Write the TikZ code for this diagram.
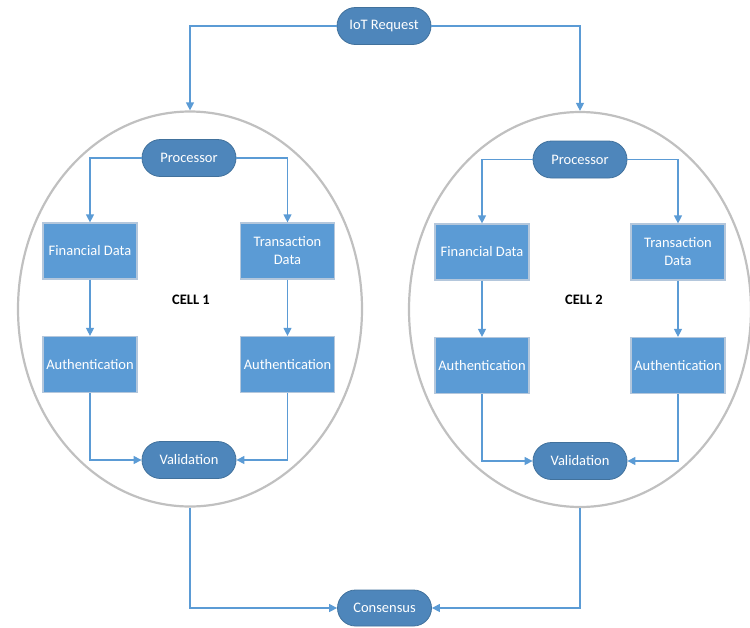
\documentclass[tikz,border=0pt]{standalone}
\usepackage{fontspec}
\setmainfont{Carlito}
\usetikzlibrary{shapes.geometric,shapes.misc,arrows.meta}
\definecolor{boxfill}{HTML}{5B9BD5}
\definecolor{boxline}{HTML}{B4C7DC}
\definecolor{pillfill}{HTML}{4E86BB}
\definecolor{pillline}{HTML}{41719C}
\definecolor{conn}{HTML}{5B9BD5}
\definecolor{cellline}{HTML}{C0C0C0}
\tikzset{
  txt/.style={font=\fontsize{14.5}{18}\selectfont, text=white, align=center, inner sep=0pt},
  pill/.style={txt, rounded rectangle, fill=pillfill, draw=pillline, line width=0.8pt,
    minimum width=94pt, minimum height=37pt},
  blockbox/.style={txt, rectangle, fill=boxfill, draw=boxline, line width=1.2pt,
    minimum width=94pt, minimum height=56pt},
  cell/.style={ellipse, draw=cellline, line width=2.2pt, inner sep=0pt,
    minimum width=344pt, minimum height=395pt},
  celllabel/.style={font=\fontsize{14.5}{18}\selectfont\bfseries, text=black, inner sep=0pt},
  link/.style={draw=conn, line width=1.2pt, -{Triangle[length=8pt,width=8pt]}},
}
\begin{document}
\begin{tikzpicture}[x=1pt,y=-1pt]
\useasboundingbox (0,0) rectangle (750,627);
% cells
\node[cell] (cellA) at (190,309) {};
\node[cell, minimum width=342pt] (cellB) at (580,309.5) {};
\node[celllabel] at (191,300) {CELL 1};
\node[celllabel] at (584,300) {CELL 2};
% top and bottom
\node[pill] (iot) at (384,26) {IoT Request};
\node[pill, minimum height=36pt] (cons) at (384.5,608) {Consensus};
% cell 1
\node[pill] (procA) at (189,158) {Processor};
\node[blockbox] (finA) at (90,251) {Financial Data};
\node[blockbox] (trA) at (287.5,251) {Transaction\\Data};
\node[blockbox] (authA) at (90,364.5) {Authentication};
\node[blockbox] (authA2) at (287.5,364.5) {Authentication};
\node[pill] (valA) at (189,460) {Validation};
% cell 2
\node[pill] (procB) at (580,159.5) {Processor};
\node[blockbox] (finB) at (482,252) {Financial Data};
\node[blockbox] (trB) at (678,252) {Transaction\\Data};
\node[blockbox] (authB) at (482,365.5) {Authentication};
\node[blockbox] (authB2) at (678,365.5) {Authentication};
\node[pill] (valB) at (580,461) {Validation};
% connectors
\draw[link] (iot.west) -| (cellA.north);
\draw[link] (iot.east) -| (cellB.north);
\draw[link] (cellA.south) |- (cons.west);
\draw[link] (cellB.south) |- (cons.east);
\draw[link] (procA.west) -| (finA.north);
\draw[link] (procA.east) -| (trA.north);
\draw[link] (finA) -- (authA);
\draw[link] (trA) -- (authA2);
\draw[link] (authA.south) |- (valA.west);
\draw[link] (authA2.south) |- (valA.east);
\draw[link] (procB.west) -| (finB.north);
\draw[link] (procB.east) -| (trB.north);
\draw[link] (finB) -- (authB);
\draw[link] (trB) -- (authB2);
\draw[link] (authB.south) |- (valB.west);
\draw[link] (authB2.south) |- (valB.east);
\end{tikzpicture}
\end{document}
